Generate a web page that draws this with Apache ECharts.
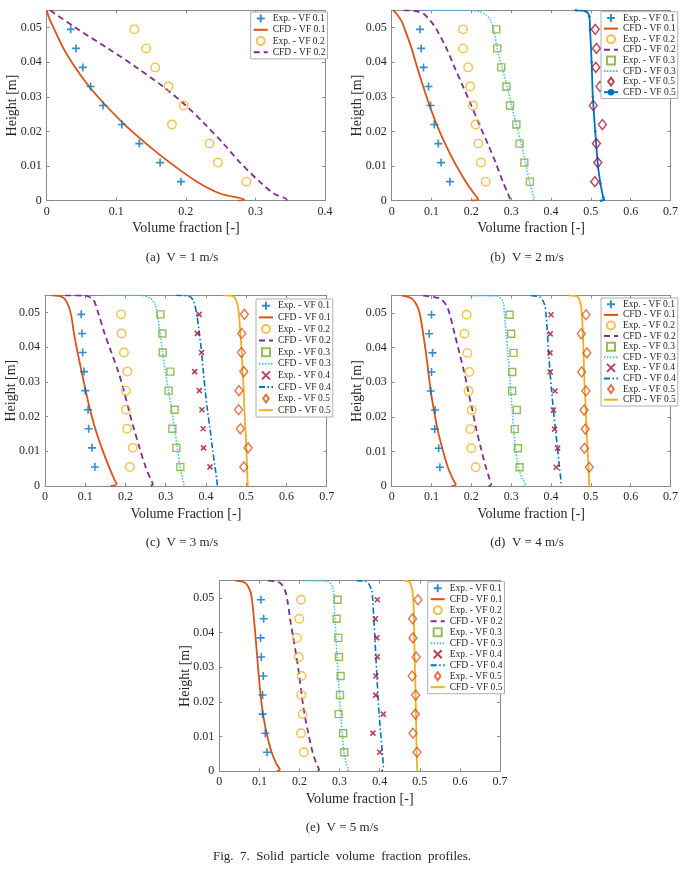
<!DOCTYPE html>
<html><head><meta charset="utf-8">
<script src="https://cdn.jsdelivr.net/npm/echarts@6/dist/echarts.min.js"></script>
<style>html,body{margin:0;padding:0;background:#fff}#c{width:681px;height:875px}</style>
</head><body><div id="c"></div>
<script>
// ---------- DATA ----------
const expHeights = [0.0055,0.011,0.0165,0.022,0.0275,0.033,0.0385,0.044,0.0495];
const yTickStep = 0.01, xTickStep = 0.1;

// (a) V = 1 m/s
const A_exp01 = [0.193,0.163,0.133,0.108,0.081,0.063,0.052,0.042,0.0345];
const A_exp02 = [0.287,0.246,0.234,0.180,0.197,0.175,0.156,0.143,0.126];
const A_cfd01 = [[0,0.055],[0.004,0.0525],[0.011,0.0495],[0.024,0.044],[0.041,0.0385],[0.061,0.033],[0.085,0.0275],[0.112,0.022],[0.143,0.0165],[0.177,0.011],[0.216,0.0055],[0.25,0.002],[0.284,0.0003],[0.275,0]];
const A_cfd02 = [[0.005,0.055],[0.045,0.0495],[0.088,0.044],[0.129,0.0385],[0.167,0.033],[0.2,0.0275],[0.228,0.022],[0.254,0.0165],[0.278,0.011],[0.306,0.0055],[0.327,0.002],[0.345,0.0003],[0.34,0]];

// (b) V = 2 m/s
const B_exp01 = [0.146,0.124,0.117,0.107,0.0975,0.0925,0.080,0.074,0.071];
const B_exp02 = [0.236,0.224,0.2175,0.211,0.204,0.197,0.192,0.179,0.179];
const B_exp03 = [0.347,0.333,0.321,0.313,0.297,0.288,0.275,0.265,0.2625];
const B_exp05 = [0.51,0.5175,0.514,0.529,0.506,0.523,0.5125,0.514,0.511];
const B_cfd01 = [[0.004,0.055],[0.012,0.054],[0.024,0.052],[0.033,0.0495],[0.05,0.044],[0.064,0.0385],[0.079,0.033],[0.095,0.0275],[0.113,0.022],[0.134,0.0165],[0.158,0.011],[0.186,0.0055],[0.207,0.002],[0.217,0.0004],[0.2,0]];
const B_cfd02 = [[0.03,0.055],[0.06,0.0548],[0.08,0.054],[0.097,0.052],[0.1125,0.0495],[0.1375,0.044],[0.158,0.0385],[0.179,0.033],[0.2,0.0275],[0.22,0.022],[0.241,0.0165],[0.261,0.011],[0.279,0.0055],[0.292,0.002],[0.297,0.0004],[0.29,0]];
const B_cfd03 = [[0.08,0.055],[0.196,0.055],[0.22,0.0546],[0.2375,0.0536],[0.2475,0.0522],[0.256,0.0495],[0.265,0.044],[0.277,0.0385],[0.29,0.033],[0.301,0.0275],[0.313,0.022],[0.325,0.0165],[0.336,0.011],[0.346,0.0055],[0.354,0.002],[0.358,0.0004],[0.35,0]];
const B_cfd05 = [[0.4625,0.055],[0.4875,0.0547],[0.496,0.0533],[0.498,0.0495],[0.502,0.04],[0.505,0.03],[0.511,0.02],[0.518,0.01],[0.524,0.005],[0.531,0.001],[0.533,0.0003],[0.526,0]];

// (c) V = 3 m/s
const C_exp01 = [0.124,0.117,0.1085,0.107,0.100,0.097,0.0936,0.092,0.090];
const C_exp02 = [0.211,0.218,0.204,0.201,0.201,0.2046,0.196,0.190,0.189];
const C_exp03 = [0.3364,0.3264,0.3165,0.322,0.307,0.3115,0.2925,0.2916,0.2867];
const C_exp04 = [0.410,0.394,0.393,0.390,0.3836,0.372,0.389,0.3786,0.383];
const C_exp05 = [0.494,0.5046,0.4855,0.481,0.482,0.494,0.488,0.489,0.4954];
const C_cfd01 = [[0.0166,0.055],[0.041,0.0546],[0.054,0.0531],[0.0646,0.0495],[0.072,0.044],[0.081,0.0385],[0.091,0.033],[0.101,0.0275],[0.112,0.022],[0.125,0.0165],[0.141,0.011],[0.159,0.0055],[0.172,0.002],[0.178,0.0005],[0.163,0]];
const C_cfd02 = [[0.05,0.055],[0.099,0.0549],[0.12,0.0537],[0.1334,0.0495],[0.148,0.044],[0.165,0.0385],[0.182,0.033],[0.196,0.0275],[0.208,0.022],[0.221,0.0165],[0.235,0.011],[0.25,0.0055],[0.2626,0.002],[0.268,0.0005],[0.26,0]];
const C_cfd03 = [[0.153,0.055],[0.236,0.055],[0.261,0.0542],[0.273,0.0525],[0.279,0.0495],[0.286,0.044],[0.2925,0.0385],[0.299,0.033],[0.3065,0.0275],[0.315,0.022],[0.322,0.0165],[0.329,0.011],[0.3355,0.0055],[0.342,0.002],[0.3455,0.0005],[0.34,0]];
const C_cfd04 = [[0.325,0.055],[0.356,0.0548],[0.3687,0.0535],[0.377,0.0495],[0.3836,0.044],[0.389,0.0385],[0.3935,0.033],[0.398,0.0275],[0.4035,0.022],[0.41,0.0165],[0.416,0.011],[0.4225,0.0055],[0.4267,0.002],[0.428,0.0005],[0.425,0]];
const C_cfd05 = [[0.443,0.055],[0.468,0.0547],[0.478,0.0525],[0.482,0.0495],[0.4855,0.044],[0.489,0.0385],[0.491,0.033],[0.494,0.0275],[0.4954,0.022],[0.498,0.0165],[0.5004,0.011],[0.502,0.0055],[0.5037,0]];

// (d) V = 4 m/s
const D_exp01 = [0.121,0.118,0.108,0.109,0.098,0.1,0.1025,0.094,0.1];
const D_exp02 = [0.211,0.2,0.1975,0.201,0.193,0.195,0.19,0.1825,0.188];
const D_exp03 = [0.321,0.3167,0.309,0.314,0.3025,0.3025,0.306,0.3,0.296];
const D_exp04 = [0.413,0.4167,0.409,0.406,0.41,0.398,0.3975,0.398,0.4];
const D_exp05 = [0.496,0.484,0.486,0.483,0.4875,0.477,0.49,0.476,0.488];
const D_cfd01 = [[0.025,0.055],[0.05,0.0542],[0.064,0.052],[0.071,0.0495],[0.079,0.044],[0.086,0.0385],[0.092,0.033],[0.098,0.0275],[0.106,0.022],[0.115,0.0165],[0.127,0.011],[0.141,0.0055],[0.154,0.002],[0.161,0.0005],[0.15,0]];
const D_cfd02 = [[0.079,0.055],[0.121,0.0542],[0.1375,0.0522],[0.146,0.0495],[0.158,0.044],[0.17,0.0385],[0.182,0.033],[0.192,0.0275],[0.2025,0.022],[0.2125,0.0165],[0.224,0.011],[0.2365,0.0055],[0.246,0.002],[0.25,0.0005],[0.243,0]];
const D_cfd03 = [[0.196,0.055],[0.2625,0.0549],[0.279,0.0533],[0.283,0.0495],[0.2875,0.044],[0.2917,0.0385],[0.2955,0.033],[0.299,0.0275],[0.3025,0.022],[0.306,0.0165],[0.311,0.011],[0.318,0.0055],[0.329,0.002],[0.337,0.0005],[0.332,0]];
const D_cfd04 = [[0.35,0.055],[0.371,0.0547],[0.383,0.0527],[0.3875,0.0495],[0.391,0.044],[0.394,0.0385],[0.3975,0.033],[0.4015,0.0275],[0.406,0.022],[0.411,0.0165],[0.4165,0.011],[0.421,0.0055],[0.425,0.001],[0.422,0]];
const D_cfd05 = [[0.446,0.055],[0.467,0.0547],[0.475,0.0522],[0.4775,0.0495],[0.48,0.044],[0.4817,0.0385],[0.483,0.033],[0.485,0.0275],[0.4875,0.022],[0.489,0.0165],[0.4917,0.011],[0.494,0.0055],[0.496,0]];

// (e) V = 5 m/s
const E_exp01 = [0.119,0.1147,0.108,0.108,0.1097,0.1047,0.103,0.1106,0.104];
const E_exp02 = [0.211,0.2037,0.208,0.2045,0.2053,0.198,0.1937,0.1995,0.2037];
const E_exp03 = [0.3117,0.309,0.2976,0.301,0.3026,0.2984,0.2968,0.2926,0.295];
const E_exp04 = [0.4,0.383,0.409,0.39,0.3907,0.394,0.393,0.389,0.394];
const E_exp05 = [0.493,0.483,0.4888,0.4896,0.481,0.491,0.483,0.482,0.4954];
const E_cfd01 = [[0.039,0.055],[0.064,0.0544],[0.0765,0.0522],[0.0815,0.0495],[0.0864,0.044],[0.0906,0.0385],[0.0945,0.033],[0.0985,0.0275],[0.103,0.022],[0.109,0.0165],[0.118,0.011],[0.1305,0.0055],[0.143,0.002],[0.151,0.0005],[0.143,0]];
const E_cfd02 = [[0.122,0.055],[0.151,0.0544],[0.1638,0.0522],[0.1696,0.0495],[0.1765,0.044],[0.1845,0.0385],[0.1925,0.033],[0.1995,0.0275],[0.2055,0.022],[0.2125,0.0165],[0.222,0.011],[0.2327,0.0055],[0.2427,0.002],[0.249,0.0005],[0.24,0]];
const E_cfd03 = [[0.2095,0.055],[0.2677,0.0549],[0.2826,0.0532],[0.286,0.0495],[0.2885,0.044],[0.291,0.0385],[0.2937,0.033],[0.2965,0.0275],[0.2995,0.022],[0.3028,0.0165],[0.3067,0.011],[0.311,0.0055],[0.3175,0.002],[0.3217,0.0005],[0.318,0]];
const E_cfd04 = [[0.3425,0.055],[0.3674,0.0547],[0.38,0.0522],[0.3824,0.0495],[0.3855,0.044],[0.388,0.0385],[0.3905,0.033],[0.393,0.0275],[0.3955,0.022],[0.3985,0.0165],[0.4023,0.011],[0.4065,0.0055],[0.409,0.001],[0.405,0]];
const E_cfd05 = [[0.4588,0.055],[0.4738,0.0547],[0.4813,0.0522],[0.4838,0.0495],[0.4854,0.044],[0.4863,0.0385],[0.487,0.033],[0.4885,0.0275],[0.4896,0.022],[0.4905,0.0165],[0.4913,0.011],[0.492,0.0055],[0.4938,0]];

const captions = ['(a)  V = 1 m/s','(b)  V = 2 m/s','(c)  V = 3 m/s','(d)  V = 4 m/s','(e)  V = 5 m/s'];
const figCaption = 'Fig.  7.  Solid  particle  volume  fraction  profiles.';

// ---------- STYLE ----------
const FONT = "'Liberation Serif','Times New Roman',serif";
const COL = {blue:'#0072BD', orange:'#D95319', yellow:'#EDB120', purple:'#7E2F8E', green:'#77AC30', cyan:'#4DBEEE', red:'#A2142F'};
const PLUS = 'path://M5,0L5,10M0,5L10,5';
const CROSS = 'path://M0,0L10,10M0,10L10,0';
const SQUARE_ICON = 'path://M0,0L10,0L10,10L0,10Z';
const DIAMOND_ICON = 'path://M5,0L10,7L5,14L0,7Z';
const AXC = '#8a8a8a', TXT = '#262626';

const M = {
  plus:  c => ({symbol:PLUS, symbolSize:8, itemStyle:{color:'rgba(0,0,0,0)', borderColor:c, borderWidth:1.6}}),
  circle:c => ({symbol:'circle', symbolSize:8.5, itemStyle:{color:'rgba(0,0,0,0)', borderColor:c, borderWidth:1.4}, icon:'circle'}),
  square:c => ({symbol:'rect', symbolSize:7, itemStyle:{color:'rgba(0,0,0,0)', borderColor:c, borderWidth:1.4}, icon:SQUARE_ICON}),
  cross: c => ({symbol:CROSS, symbolSize:5, itemStyle:{color:'rgba(0,0,0,0)', borderColor:c, borderWidth:1.6}}),
  diamond:c => ({symbol:'diamond', symbolSize:[8,10], itemStyle:{color:'rgba(0,0,0,0)', borderColor:c, borderWidth:1.4}, icon:DIAMOND_ICON})
};
const L = {
  solid: c => ({type:'solid', color:c, width:1.8}),
  dashed: c => ({type:[6,4], color:c, width:1.8}),
  dotted: c => ({type:[1.5,1.5], color:c, width:1.6}),
  dashdot: c => ({type:[6,2.5,1.5,2.5], color:c, width:1.6})
};

const panels = [
  {grid:{left:46.7, top:10.3, width:278.3, height:190.4}, xMax:0.4, yName:'Height [m]', xName:'Volume fraction [-]',
   legend:{left:250.7, top:12, lh:11.2}, cap:[182,258],
   items:[['Exp. - VF 0.1','exp',A_exp01,M.plus(COL.blue)],['CFD - VF 0.1','cfd',A_cfd01,L.solid(COL.orange)],
          ['Exp. - VF 0.2','exp',A_exp02,M.circle(COL.yellow)],['CFD - VF 0.2','cfd',A_cfd02,L.dashed(COL.purple)]]},
  {grid:{left:391.7, top:10.3, width:280, height:190.4}, xMax:0.7, yName:'Heigth [m]', xName:'Volume fraction [-]',
   legend:{left:601, top:11.7, lh:10.6}, cap:[527,258],
   items:[['Exp. - VF 0.1','exp',B_exp01,M.plus(COL.blue)],['CFD - VF 0.1','cfd',B_cfd01,L.solid(COL.orange)],
          ['Exp. - VF 0.2','exp',B_exp02,M.circle(COL.yellow)],['CFD - VF 0.2','cfd',B_cfd02,L.dashed(COL.purple)],
          ['Exp. - VF 0.3','exp',B_exp03,M.square(COL.green)],['CFD - VF 0.3','cfd',B_cfd03,L.dotted(COL.cyan)],
          ['Exp. - VF 0.5','exp',B_exp05,M.diamond(COL.red)],['CFD - VF 0.5','cfdm',B_cfd05,L.solid(COL.blue)]]},
  {grid:{left:45, top:295.3, width:281.7, height:190.7}, xMax:0.7, yName:'Height [m]', xName:'Volume Fraction [-]',
   legend:{left:256, top:299, lh:11.6}, cap:[182,543],
   items:[['Exp. - VF 0.1','exp',C_exp01,M.plus(COL.blue)],['CFD - VF 0.1','cfd',C_cfd01,L.solid(COL.orange)],
          ['Exp. - VF 0.2','exp',C_exp02,M.circle(COL.yellow)],['CFD - VF 0.2','cfd',C_cfd02,L.dashed(COL.purple)],
          ['Exp. - VF 0.3','exp',C_exp03,M.square(COL.green)],['CFD - VF 0.3','cfd',C_cfd03,L.dotted(COL.cyan)],
          ['Exp. - VF 0.4','exp',C_exp04,M.cross(COL.red)],['CFD - VF 0.4','cfd',C_cfd04,L.dashdot(COL.blue)],
          ['Exp. - VF 0.5','exp',C_exp05,M.diamond(COL.orange)],['CFD - VF 0.5','cfd',C_cfd05,L.solid(COL.yellow)]]},
  {grid:{left:391.7, top:295.7, width:280, height:190.6}, xMax:0.7, yName:'Height [m]', xName:'Volume fraction [-]',
   legend:{left:601, top:298, lh:10.6}, cap:[527,543],
   items:[['Exp. - VF 0.1','exp',D_exp01,M.plus(COL.blue)],['CFD - VF 0.1','cfd',D_cfd01,L.solid(COL.orange)],
          ['Exp. - VF 0.2','exp',D_exp02,M.circle(COL.yellow)],['CFD - VF 0.2','cfd',D_cfd02,L.dashed(COL.purple)],
          ['Exp. - VF 0.3','exp',D_exp03,M.square(COL.green)],['CFD - VF 0.3','cfd',D_cfd03,L.dotted(COL.cyan)],
          ['Exp. - VF 0.4','exp',D_exp04,M.cross(COL.red)],['CFD - VF 0.4','cfd',D_cfd04,L.dashdot(COL.blue)],
          ['Exp. - VF 0.5','exp',D_exp05,M.diamond(COL.orange)],['CFD - VF 0.5','cfd',D_cfd05,L.solid(COL.yellow)]]},
  {grid:{left:219.3, top:580.7, width:280.7, height:190.6}, xMax:0.7, yName:'Height [m]', xName:'Volume fraction [-]',
   legend:{left:427.7, top:581.7, lh:11}, cap:[342,828],
   items:[['Exp. - VF 0.1','exp',E_exp01,M.plus(COL.blue)],['CFD - VF 0.1','cfd',E_cfd01,L.solid(COL.orange)],
          ['Exp. - VF 0.2','exp',E_exp02,M.circle(COL.yellow)],['CFD - VF 0.2','cfd',E_cfd02,L.dashed(COL.purple)],
          ['Exp. - VF 0.3','exp',E_exp03,M.square(COL.green)],['CFD - VF 0.3','cfd',E_cfd03,L.dotted(COL.cyan)],
          ['Exp. - VF 0.4','exp',E_exp04,M.cross(COL.red)],['CFD - VF 0.4','cfd',E_cfd04,L.dashdot(COL.blue)],
          ['Exp. - VF 0.5','exp',E_exp05,M.diamond(COL.orange)],['CFD - VF 0.5','cfd',E_cfd05,L.solid(COL.yellow)]]}
];

const grids=[], xAxes=[], yAxes=[], series=[], legends=[], graphics=[];
const fmtX = v => v===0 ? '0' : String(+v.toFixed(1));
const fmtY = v => v===0 ? '0' : v.toFixed(2);

panels.forEach((p,i)=>{
  grids.push(Object.assign({containLabel:false, show:false}, p.grid));
  const baseAxis = {gridIndex:i, type:'value', min:0, axisLine:{show:true, onZero:false, lineStyle:{color:AXC, width:1}},
    axisTick:{show:true, inside:true, length:3, lineStyle:{color:AXC}}, splitLine:{show:false}};
  xAxes.push(Object.assign({}, baseAxis, {max:p.xMax, interval:xTickStep, position:'bottom',
    axisLabel:{show:true, formatter:fmtX, fontFamily:FONT, fontSize:12, color:TXT, margin:5},
    name:p.xName, nameLocation:'middle', nameGap:21, nameMoveOverlap:false, nameTextStyle:{fontFamily:FONT, fontSize:14, color:TXT}}));
  xAxes.push(Object.assign({}, baseAxis, {max:p.xMax, interval:xTickStep, position:'top', axisLabel:{show:false}}));
  yAxes.push(Object.assign({}, baseAxis, {max:0.055, interval:yTickStep, position:'left',
    axisLabel:{show:true, formatter:fmtY, showMaxLabel:false, fontFamily:FONT, fontSize:12, color:TXT, margin:5},
    name:p.yName, nameLocation:'middle', nameGap:27, nameMoveOverlap:false, nameRotate:90, nameTextStyle:{fontFamily:FONT, fontSize:14, color:TXT}}));
  yAxes.push(Object.assign({}, baseAxis, {max:0.055, interval:yTickStep, position:'right', axisLabel:{show:false}}));

  const legendData=[];
  p.items.forEach(([nm,kind,vals,sty])=>{
    const name = i+'|'+nm;
    if (kind==='exp') {
      const s = Object.assign({type:'scatter', name, xAxisIndex:2*i, yAxisIndex:2*i, z:3,
        data: expHeights.map((h,j)=>[vals[j],h]), emphasis:{disabled:true}}, sty);
      delete s.icon;
      series.push(s);
      legendData.push(sty.icon ? {name, icon:sty.icon} : {name});
    } else {
      series.push({type:'line', name, xAxisIndex:2*i, yAxisIndex:2*i, z:2,
        data: vals, smooth:0.3,
        symbol: kind==='cfdm' ? 'circle' : 'none', showSymbol: kind==='cfdm', symbolSize:2.5,
        itemStyle:{color:sty.color}, lineStyle:sty, emphasis:{disabled:true}});
      legendData.push({name, itemStyle:{opacity: kind==='cfdm' ? 1 : 0}});
    }
  });
  legends.push({orient:'vertical', left:p.legend.left, top:p.legend.top, data:legendData, selectedMode:false,
    formatter: n => n.split('|')[1], itemWidth:14, itemHeight:8, itemGap:0,
    textStyle:{fontFamily:FONT, fontSize:9.5, color:TXT, lineHeight:p.legend.lh},
    backgroundColor:'#fff', borderColor:'#999', borderWidth:0.8, padding:[1,2,1,2], borderRadius:0});
  graphics.push({type:'text', x:p.cap[0], y:p.cap[1], style:{text:captions[i], font:'13px '+FONT, fill:TXT, textAlign:'center', textVerticalAlign:'middle'}});
});
graphics.push({type:'text', x:342, y:857, style:{text:figCaption, font:'13px '+FONT, fill:TXT, textAlign:'center', textVerticalAlign:'middle'}});

const chart = echarts.init(document.getElementById('c'), null, {renderer:'canvas'});
chart.setOption({animation:false, backgroundColor:'#fff', grid:grids, xAxis:xAxes, yAxis:yAxes, series, legend:legends, graphic:graphics, tooltip:{show:false}});
</script></body></html>
